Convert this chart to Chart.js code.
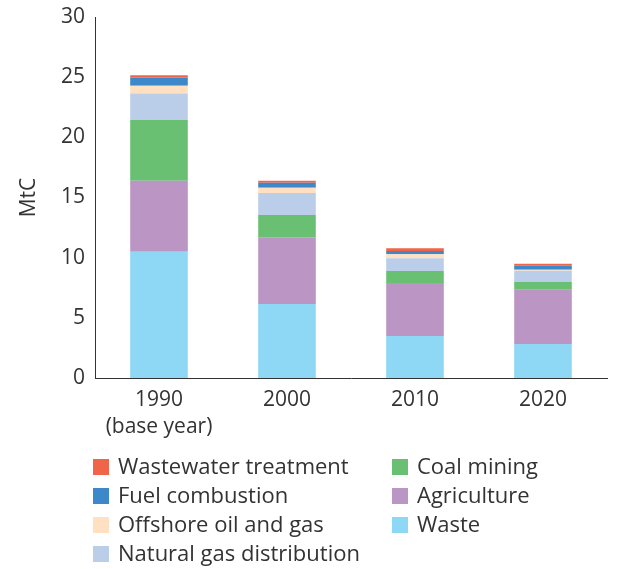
<!DOCTYPE html>
<html>
<head>
<meta charset="utf-8">
<script src="https://cdn.jsdelivr.net/npm/chart.js@4/dist/chart.umd.min.js"></script>
<style>
  html, body { margin: 0; padding: 0; background: #fff; }
  #wrap { position: relative; width: 624px; height: 569px; }
</style>
</head>
<body>
<div id="wrap"><canvas id="chart" width="624" height="569"></canvas></div>
<script>
// Categories (x axis), multi-line label for the base year
const years = [['1990', '(base year)'], '2000', '2010', '2020'];

// Series values in MtC (bottom to top)
const waste        = [10.5, 6.15, 3.5, 2.83];
const agriculture  = [5.9, 5.55, 4.4, 4.5];
const coalMining   = [5.05, 1.85, 1.0, 0.67];
const natGas       = [2.2, 1.83, 1.05, 0.91];
const offshore     = [0.64, 0.42, 0.33, 0.08];
const fuel         = [0.69, 0.42, 0.28, 0.33];
const wastewater   = [0.17, 0.17, 0.22, 0.17];

const yTicks = [0, 5, 10, 15, 20, 25, 30];

const ink = '#333333';
const font = 'Open Sans';

const datasets = [
    { label: 'Waste', data: waste, backgroundColor: '#8ED8F6' },
    { label: 'Agriculture', data: agriculture, backgroundColor: '#BB95C3' },
    { label: 'Coal mining', data: coalMining, backgroundColor: '#69C072' },
    { label: 'Natural gas distribution', data: natGas, backgroundColor: '#BACEE9' },
    { label: 'Offshore oil and gas', data: offshore, backgroundColor: '#FFE0C0' },
    { label: 'Fuel combustion', data: fuel, backgroundColor: '#3C88C9' },
    { label: 'Wastewater treatment', data: wastewater, backgroundColor: '#F0654A' },
];

// legend layout: two columns, same order as the picture
const legendCols = [
    ['Wastewater treatment', 'Fuel combustion', 'Offshore oil and gas', 'Natural gas distribution'],
    ['Coal mining', 'Agriculture', 'Waste'],
];

const legendPlugin = {
    id: 'sideLegend',
    afterDraw(chart) {
        const ctx = chart.ctx;
        const colX = [93, 392];
        const rowY = [467, 496, 525, 554];
        ctx.save();
        ctx.font = '22px "' + font + '"';
        ctx.textBaseline = 'middle';
        legendCols.forEach((col, c) => {
            col.forEach((name, r) => {
                const ds = chart.data.datasets.find(d => d.label === name);
                ctx.fillStyle = ds.backgroundColor;
                ctx.fillRect(colX[c], rowY[r] - 8, 16, 16);
                ctx.fillStyle = ink;
                ctx.fillText(name, colX[c] + 25, rowY[r] + 1);
            });
        });
        ctx.restore();
    }
};

const ctx = document.getElementById('chart').getContext('2d');
new Chart(ctx, {
    type: 'bar',
    data: { labels: years, datasets: datasets },
    options: {
        responsive: false,
        animation: false,
        layout: { padding: { top: 17, right: 17, bottom: 131, left: 0 } },
        plugins: { legend: { display: false }, tooltip: { enabled: false } },
        datasets: { bar: { barPercentage: 0.9, categoryPercentage: 0.5 } },
        scales: {
            x: {
                stacked: true,
                grid: { display: false, drawTicks: false },
                border: { color: ink, width: 1 },
                ticks: { color: ink, font: { family: font, size: 21, lineHeight: 1.3 }, padding: 8, maxRotation: 0 },
                afterFit: s => { s.height = 60; s.paddingLeft = 0; s.paddingRight = 0; }
            },
            y: {
                stacked: true,
                min: 0,
                max: 30,
                afterBuildTicks: s => { s.ticks = yTicks.map(v => ({ value: v })); },
                grid: { display: false, drawTicks: false },
                border: { color: ink, width: 1 },
                ticks: { color: ink, font: { family: font, size: 21 }, padding: 10 },
                title: { display: true, text: 'MtC', color: ink, font: { family: font, size: 21 }, padding: { top: 16, bottom: 0 } },
                afterFit: s => { s.width = 95; s.paddingTop = 0; s.paddingBottom = 0; }
            }
        }
    },
    plugins: [legendPlugin]
});
</script>
</body>
</html>
